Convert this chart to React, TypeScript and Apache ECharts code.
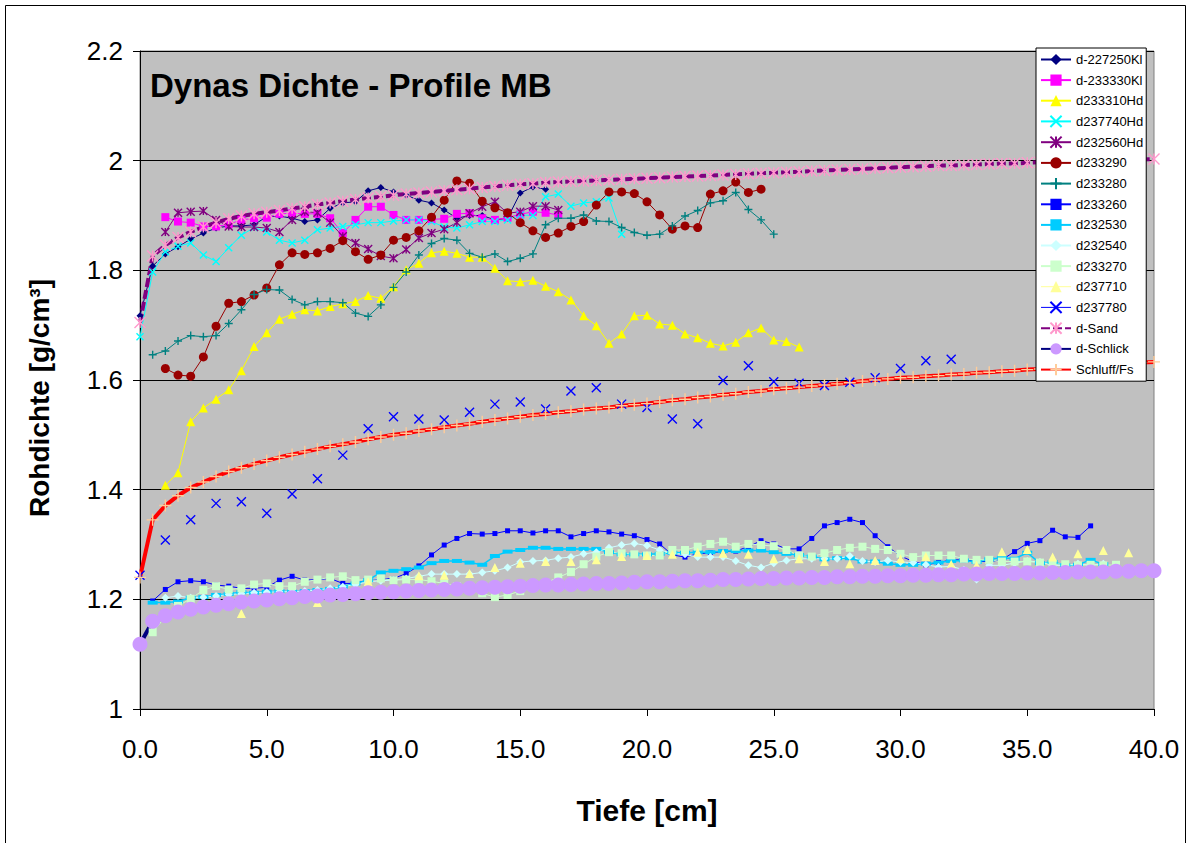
import React, { useEffect, useRef } from "react";
import * as echarts from "echarts";

// ---------- data (depth step 0.5 cm unless stated) ----------
const X_TICKS_MIN = 0;
const X_TICKS_MAX = 40;
const Y_MIN = 1;
const Y_MAX = 2.2;

const d227250Kl_start = 0;
const d227250Kl = [1.717, 1.808, 1.83, 1.843, 1.857, 1.868, 1.877, 1.881, 1.881, 1.883, 1.898, 1.899, 1.895, 1.889, 1.892, 1.913, 1.923, 1.925, 1.945, 1.951, 1.943, 1.937, 1.928, 1.923, 1.91, 1.895, 1.9, 1.9, 1.892, 1.895, 1.941, 1.952, 1.948];

const d233330Kl_start = 1;
const d233330Kl = [1.897, 1.889, 1.887, 1.88, 1.88, 1.884, 1.892, 1.895, 1.896, 1.903, 1.904, 1.903, 1.903, 1.895, 1.868, 1.892, 1.916, 1.916, 1.901, 1.892, 1.892, 1.893, 1.894, 1.903, 1.904, 1.895, 1.892, 1.896, 1.902, 1.907, 1.905, 1.901];

const d233310Hd_start = 1;
const d233310Hd = [1.408, 1.431, 1.524, 1.549, 1.565, 1.582, 1.617, 1.661, 1.686, 1.711, 1.72, 1.728, 1.726, 1.734, 1.739, 1.743, 1.754, 1.749, 1.77, 1.801, 1.813, 1.832, 1.835, 1.831, 1.824, 1.824, 1.804, 1.781, 1.779, 1.782, 1.771, 1.761, 1.746, 1.717, 1.699, 1.667, 1.684, 1.717, 1.718, 1.702, 1.7, 1.684, 1.677, 1.667, 1.662, 1.669, 1.686, 1.695, 1.673, 1.67, 1.66];

const d237740Hd_start = 0;
const d237740Hd = [1.679, 1.797, 1.834, 1.844, 1.85, 1.828, 1.816, 1.841, 1.864, 1.878, 1.87, 1.855, 1.85, 1.855, 1.874, 1.877, 1.88, 1.883, 1.887, 1.887, 1.89, 1.892, 1.892, 1.889, 1.879, 1.877, 1.883, 1.889, 1.889, 1.892, 1.901, 1.9, 1.934, 1.939, 1.917, 1.923, 1.925, 1.932, 1.866];

const d232560Hd_start = 1;
const d232560Hd = [1.87, 1.905, 1.907, 1.908, 1.892, 1.88, 1.879, 1.879, 1.877, 1.87, 1.892, 1.907, 1.905, 1.887, 1.862, 1.85, 1.839, 1.826, 1.822, 1.838, 1.859, 1.868, 1.875, 1.887, 1.904, 1.916, 1.925, 1.904, 1.907, 1.917, 1.917, 1.91];

const d233290_start = 1;
const d233290 = [1.621, 1.609, 1.607, 1.642, 1.698, 1.74, 1.743, 1.755, 1.768, 1.81, 1.832, 1.829, 1.832, 1.84, 1.854, 1.834, 1.82, 1.828, 1.855, 1.86, 1.872, 1.897, 1.928, 1.963, 1.959, 1.926, 1.914, 1.905, 1.887, 1.872, 1.86, 1.868, 1.88, 1.889, 1.919, 1.943, 1.943, 1.94, 1.925, 1.901, 1.875, 1.881, 1.878, 1.939, 1.945, 1.961, 1.942, 1.948];

const d233280_start = 0.5;
const d233280 = [1.646, 1.653, 1.671, 1.681, 1.679, 1.681, 1.703, 1.728, 1.756, 1.765, 1.764, 1.747, 1.737, 1.743, 1.743, 1.741, 1.722, 1.716, 1.737, 1.769, 1.797, 1.828, 1.849, 1.858, 1.855, 1.831, 1.824, 1.83, 1.816, 1.822, 1.83, 1.883, 1.895, 1.895, 1.901, 1.89, 1.889, 1.878, 1.869, 1.864, 1.866, 1.881, 1.899, 1.909, 1.923, 1.927, 1.942, 1.911, 1.892, 1.866];

const d233260_start = 0.5;
const d233260 = [1.197, 1.218, 1.232, 1.234, 1.232, 1.226, 1.224, 1.22, 1.22, 1.222, 1.235, 1.242, 1.235, 1.236, 1.238, 1.229, 1.229, 1.236, 1.237, 1.238, 1.247, 1.261, 1.281, 1.299, 1.311, 1.32, 1.319, 1.32, 1.325, 1.325, 1.321, 1.325, 1.325, 1.314, 1.32, 1.325, 1.323, 1.319, 1.316, 1.309, 1.301, 1.281, 1.277, 1.283, 1.285, 1.287, 1.288, 1.296, 1.307, 1.301, 1.292, 1.292, 1.311, 1.334, 1.34, 1.346, 1.34, 1.316, 1.296, 1.279, 1.269, 1.263, 1.267, 1.272, 1.272, 1.269, 1.269, 1.272, 1.287, 1.302, 1.307, 1.326, 1.314, 1.313, 1.334];

const d232530_start = 0.5;
const d232530 = [1.194, 1.194, 1.196, 1.203, 1.204, 1.208, 1.21, 1.213, 1.212, 1.214, 1.215, 1.214, 1.215, 1.217, 1.219, 1.223, 1.229, 1.235, 1.249, 1.252, 1.255, 1.258, 1.266, 1.27, 1.27, 1.267, 1.263, 1.279, 1.287, 1.29, 1.294, 1.294, 1.292, 1.292, 1.292, 1.292, 1.286, 1.282, 1.282, 1.282, 1.283, 1.285, 1.285, 1.286, 1.286, 1.288, 1.288, 1.289, 1.289, 1.286, 1.283, 1.281, 1.278, 1.273, 1.275, 1.275, 1.269, 1.269, 1.265, 1.263, 1.263, 1.265, 1.267, 1.27, 1.271, 1.268, 1.273, 1.276, 1.274, 1.285, 1.266, 1.268, 1.262, 1.263, 1.272, 1.264];

const d232540_start = 1;
const d232540 = [1.203, 1.206, 1.203, 1.204, 1.206, 1.209, 1.21, 1.212, 1.213, 1.214, 1.214, 1.215, 1.217, 1.22, 1.223, 1.227, 1.232, 1.234, 1.235, 1.238, 1.242, 1.246, 1.246, 1.246, 1.246, 1.249, 1.252, 1.258, 1.268, 1.27, 1.271, 1.275, 1.277, 1.283, 1.286, 1.294, 1.299, 1.302, 1.298, 1.29, 1.284, 1.282, 1.277, 1.277, 1.277, 1.27, 1.262, 1.258, 1.266, 1.271, 1.274, 1.274, 1.274, 1.274, 1.279, 1.27, 1.268, 1.271, 1.268, 1.267, 1.263, 1.259, 1.26, 1.254, 1.236, 1.262, 1.262, 1.266, 1.27, 1.268, 1.262, 1.262, 1.265, 1.262, 1.265];

const d233270_start = 0.5;
const d233270 = [1.14, 1.168, 1.188, 1.201, 1.217, 1.224, 1.218, 1.22, 1.227, 1.229, 1.224, 1.224, 1.232, 1.236, 1.24, 1.242, 1.235, 1.236, 1.238, 1.235, 1.236, 1.236, 1.233, 1.229, 1.224, 1.218, 1.211, 1.204, 1.208, 1.215, 1.222, 1.23, 1.24, 1.25, 1.264, 1.278, 1.286, 1.284, 1.282, 1.28, 1.28, 1.29, 1.29, 1.296, 1.301, 1.305, 1.296, 1.301, 1.299, 1.297, 1.29, 1.28, 1.278, 1.284, 1.29, 1.294, 1.296, 1.292, 1.29, 1.283, 1.277, 1.28, 1.28, 1.28, 1.274, 1.272, 1.272, 1.269, 1.269, 1.269, 1.267, 1.265, 1.264, 1.262, 1.263, 1.262, 1.263];

const d237710_depth = [4, 7, 9, 11, 12, 13, 14, 15, 16, 17, 18, 19, 20, 21, 22, 23, 24, 25, 26, 27, 28, 29, 30, 31, 32, 33, 34, 35, 36, 37, 38, 39];
const d237710 = [1.174, 1.194, 1.232, 1.243, 1.244, 1.247, 1.258, 1.266, 1.269, 1.269, 1.272, 1.278, 1.28, 1.282, 1.286, 1.284, 1.282, 1.274, 1.274, 1.269, 1.265, 1.271, 1.274, 1.278, 1.264, 1.262, 1.287, 1.291, 1.277, 1.283, 1.289, 1.285];

// step 1 cm
const d237780_start = 0;
const d237780 = [1.244, 1.308, 1.345, 1.375, 1.378, 1.357, 1.392, 1.42, 1.463, 1.511, 1.533, 1.529, 1.527, 1.541, 1.556, 1.56, 1.547, 1.58, 1.586, 1.556, 1.55, 1.529, 1.52, 1.599, 1.626, 1.597, 1.594, 1.59, 1.596, 1.604, 1.621, 1.635, 1.638];

const dSand = [1.705, 1.826, 1.846, 1.86, 1.87, 1.879, 1.887, 1.894, 1.899, 1.903, 1.906, 1.909, 1.913, 1.916, 1.92, 1.923, 1.926, 1.929, 1.932, 1.934, 1.937, 1.939, 1.941, 1.943, 1.945, 1.947, 1.949, 1.951, 1.953, 1.955, 1.957, 1.958, 1.96, 1.961, 1.962, 1.963, 1.964, 1.965, 1.966, 1.967, 1.968, 1.969, 1.97, 1.971, 1.972, 1.973, 1.974, 1.975, 1.976, 1.977, 1.978, 1.979, 1.98, 1.981, 1.982, 1.983, 1.984, 1.985, 1.986, 1.987, 1.988, 1.989, 1.99, 1.991, 1.991, 1.992, 1.993, 1.994, 1.995, 1.995, 1.996, 1.997, 1.997, 1.998, 1.999, 1.999, 2.0, 2.001, 2.001, 2.002, 2.003];

const dSchlick = [1.118, 1.16, 1.17, 1.177, 1.182, 1.186, 1.189, 1.192, 1.195, 1.197, 1.199, 1.201, 1.203, 1.205, 1.206, 1.208, 1.209, 1.21, 1.212, 1.213, 1.214, 1.215, 1.216, 1.217, 1.218, 1.219, 1.22, 1.221, 1.222, 1.223, 1.224, 1.225, 1.226, 1.226, 1.227, 1.228, 1.229, 1.229, 1.23, 1.231, 1.232, 1.232, 1.233, 1.234, 1.234, 1.235, 1.236, 1.236, 1.237, 1.238, 1.238, 1.239, 1.239, 1.24, 1.24, 1.241, 1.241, 1.242, 1.242, 1.243, 1.243, 1.244, 1.244, 1.245, 1.245, 1.246, 1.246, 1.247, 1.247, 1.247, 1.248, 1.248, 1.249, 1.249, 1.25, 1.25, 1.25, 1.251, 1.251, 1.252, 1.252];

const schluffFs = [1.24, 1.345, 1.371, 1.389, 1.404, 1.414, 1.424, 1.433, 1.44, 1.447, 1.453, 1.459, 1.464, 1.469, 1.474, 1.479, 1.483, 1.487, 1.492, 1.496, 1.5, 1.503, 1.507, 1.51, 1.514, 1.517, 1.52, 1.524, 1.527, 1.53, 1.533, 1.536, 1.538, 1.541, 1.543, 1.546, 1.548, 1.55, 1.553, 1.555, 1.557, 1.56, 1.563, 1.565, 1.568, 1.57, 1.573, 1.575, 1.578, 1.58, 1.583, 1.585, 1.587, 1.589, 1.591, 1.593, 1.595, 1.598, 1.6, 1.602, 1.604, 1.605, 1.607, 1.608, 1.61, 1.611, 1.613, 1.614, 1.616, 1.617, 1.619, 1.62, 1.622, 1.623, 1.625, 1.626, 1.628, 1.629, 1.63, 1.632, 1.633];

// ---------- helpers ----------
const FONT = '"Liberation Sans", Arial, Helvetica, sans-serif';
const X_SYM = "path://M0,0L10,10M10,0L0,10";
const PLUS_SYM = "path://M5,0L5,10M0,5L10,5";
const STAR_SYM = "path://M0,0L10,10M10,0L0,10M5,0L5,10";

const steps = (start: number, step: number, vals: number[]) =>
  vals.map((v, i) => [start + i * step, v]);
const pairs = (xs: number[], ys: number[]) => xs.map((x, i) => [x, ys[i]]);

function line(
  name: string,
  data: number[][],
  lineColor: string,
  lineWidth: number,
  symbol: string,
  symbolSize: number | number[],
  symColor: string,
  stroked: boolean,
  extra: any = {}
) {
  return {
    name,
    type: "line",
    data,
    symbol,
    symbolSize,
    showSymbol: true,
    lineStyle: { color: lineColor, width: lineWidth, ...(extra.lineStyle || {}) },
    itemStyle: stroked
      ? { color: symColor, borderColor: symColor, borderWidth: 1.4 }
      : { color: symColor, borderColor: symColor, borderWidth: 0 },
    emphasis: { disabled: true },
    z: 2,
  };
}

export default function App() {
  const ref = useRef<HTMLDivElement>(null);

  useEffect(() => {
    if (!ref.current) return;
    const chart = echarts.init(ref.current, undefined, { renderer: "svg" });

    const series: any[] = [
      line("d-227250Kl", steps(d227250Kl_start, 0.5, d227250Kl), "#000080", 1, "diamond", 7, "#000080", false),
      line("d-233330Kl", steps(d233330Kl_start, 0.5, d233330Kl), "#ff00ff", 1, "rect", 8, "#ff00ff", false),
      line("d233310Hd", steps(d233310Hd_start, 0.5, d233310Hd), "#ffff00", 1, "triangle", 9, "#ffff00", false),
      line("d237740Hd", steps(d237740Hd_start, 0.5, d237740Hd), "#00ffff", 1, X_SYM, 7, "#00ffff", true),
      line("d232560Hd", steps(d232560Hd_start, 0.5, d232560Hd), "#800080", 1, STAR_SYM, 8, "#800080", true),
      line("d233290", steps(d233290_start, 0.5, d233290), "#990000", 1, "circle", 9, "#990000", false),
      line("d233280", steps(d233280_start, 0.5, d233280), "#008080", 1, PLUS_SYM, 8, "#008080", true),
      line("d233260", steps(d233260_start, 0.5, d233260), "#0000ff", 1, "rect", 5, "#0000ff", false),
      line("d232530", steps(d232530_start, 0.5, d232530), "#00ccff", 1.5, "rect", [10, 4], "#00ccff", false),
      line("d232540", steps(d232540_start, 0.5, d232540), "#ccffff", 1, "diamond", 8, "#ccffff", false),
      line("d233270", steps(d233270_start, 0.5, d233270), "#ccffcc", 1, "rect", 8, "#ccffcc", false),
      line("d237710", pairs(d237710_depth, d237710), "#ffff99", 1, "triangle", 9, "#ffff99", false, {
        lineStyle: { opacity: 0 },
      }),
      line("d237780", steps(d237780_start, 1, d237780), "#0000ff", 1, X_SYM, 9, "#0000ff", true, {
        lineStyle: { opacity: 0 },
      }),
      line("d-Sand", steps(0, 0.5, dSand), "#800080", 4, STAR_SYM, 11, "#ff99cc", true, {
        lineStyle: { type: [9, 3] },
      }),
      line("d-Schlick", steps(0, 0.5, dSchlick), "#000080", 4, "circle", 15, "#cc99ff", false),
      line("Schluff/Fs", steps(0, 0.5, schluffFs), "#ff0000", 4, PLUS_SYM, 12, "#ffcc99", true),
    ];

    const legendData = series.map((s) =>
      s.name === "d237710" || s.name === "d237780"
        ? { name: s.name, lineStyle: { opacity: 1, color: s.lineStyle.color, width: 1 } }
        : { name: s.name }
    );

    chart.setOption({
      animation: false,
      backgroundColor: "#ffffff",
      textStyle: { fontFamily: FONT },
      grid: {
        left: 140,
        right: 37,
        top: 51,
        bottom: 134,
        show: true,
        backgroundColor: "#c0c0c0",
        borderColor: "#808080",
        borderWidth: 1,
      },
      xAxis: {
        type: "value",
        min: X_TICKS_MIN,
        max: X_TICKS_MAX,
        interval: 5,
        axisLine: { show: true, onZero: false, lineStyle: { color: "#000", width: 1 } },
        axisTick: { show: true, length: 7, lineStyle: { color: "#000" } },
        axisLabel: {
          fontSize: 26,
          color: "#000",
          fontFamily: FONT,
          margin: 27,
          formatter: (v: number) => v.toFixed(1),
        },
        splitLine: { show: false },
      },
      yAxis: {
        type: "value",
        min: Y_MIN,
        max: Y_MAX,
        interval: 0.2,
        axisLine: { show: true, onZero: false, lineStyle: { color: "#000", width: 1 } },
        axisTick: { show: true, length: 7, lineStyle: { color: "#000" } },
        axisLabel: {
          fontSize: 26,
          color: "#000",
          fontFamily: FONT,
          margin: 17,
          formatter: (v: number) => String(+v.toFixed(1)),
        },
        splitLine: { show: true, lineStyle: { color: "#000", width: 1 } },
      },
      legend: {
        orient: "vertical",
        left: 1036,
        top: 48,
        itemWidth: 30,
        itemHeight: 14,
        itemGap: 7.6,
        padding: [5, 3, 5, 4],
        backgroundColor: "#ffffff",
        borderColor: "#000000",
        borderWidth: 1,
        borderRadius: 0,
        selectedMode: false,
        textStyle: { fontSize: 13, color: "#000", fontFamily: FONT },
        data: legendData,
      },
      graphic: [
        {
          type: "rect",
          shape: { x: 5.5, y: 5.5, width: 1180, height: 900 },
          style: { fill: "none", stroke: "#000", lineWidth: 1 },
          silent: true,
          z: 100,
        },
        {
          type: "text",
          x: 150,
          y: 85,
          style: {
            text: "Dynas Dichte - Profile MB",
            fontSize: 33,
            fontWeight: "bold",
            fontFamily: FONT,
            fill: "#000",
            align: "left",
            verticalAlign: "middle",
          },
          z: 100,
        },
        {
          type: "text",
          x: 39,
          y: 398,
          rotation: Math.PI / 2,
          style: {
            text: "Rohdichte [g/cm³]",
            fontSize: 28,
            fontWeight: "bold",
            fontFamily: FONT,
            fill: "#000",
            align: "center",
            verticalAlign: "middle",
          },
          z: 100,
        },
        {
          type: "text",
          x: 647,
          y: 810,
          style: {
            text: "Tiefe [cm]",
            fontSize: 30,
            fontWeight: "bold",
            fontFamily: FONT,
            fill: "#000",
            align: "center",
            verticalAlign: "middle",
          },
          z: 100,
        },
      ],
      series,
    });

    return () => chart.dispose();
  }, []);

  return (
    <div
      ref={ref}
      style={{ position: "fixed", left: 0, top: 0, width: 1191, height: 843 }}
    />
  );
}
